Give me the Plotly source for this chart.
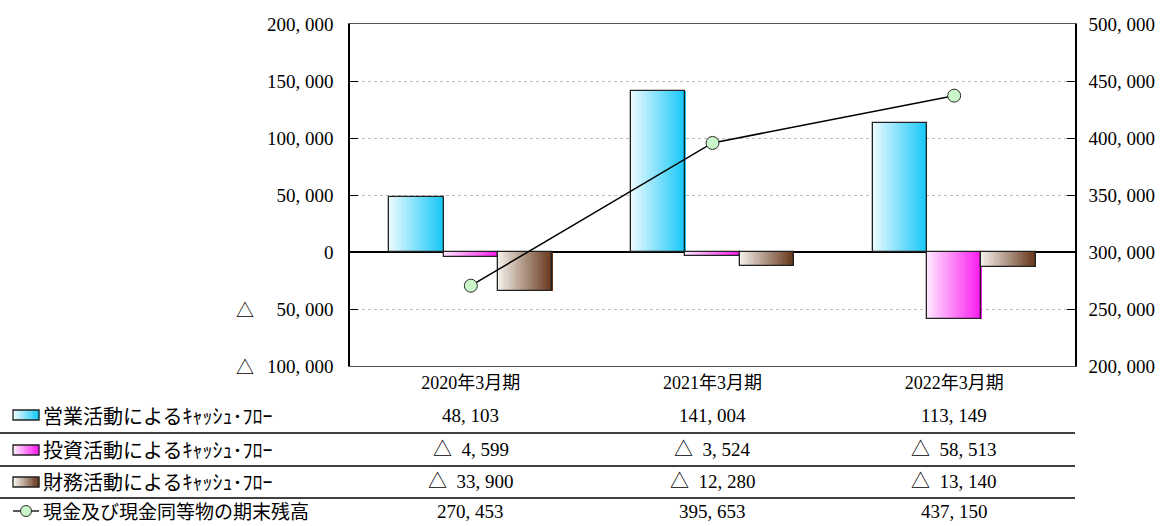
import plotly.graph_objects as go

# ---- data -------------------------------------------------------------
periods = ["2020年3月期", "2021年3月期", "2022年3月期"]
operating_cf = [48103, 141004, 113149]
investing_cf = [-4599, -3524, -58513]
financing_cf = [-33900, -12280, -13140]
cash_end = [270453, 395653, 437150]

bar_names = ["営業活動によるｷｬｯｼｭ･ﾌﾛｰ", "投資活動によるｷｬｯｼｭ･ﾌﾛｰ", "財務活動によるｷｬｯｼｭ･ﾌﾛｰ"]
line_name = "現金及び現金同等物の期末残高"

left_ticks = [200000, 150000, 100000, 50000, 0, -50000, -100000]
right_ticks = [500000, 450000, 400000, 350000, 300000, 250000, 200000]

# ---- styling ----------------------------------------------------------
W, H = 1172, 526
L, R, T, B = 350, 97, 24, 160
PW, PH = W - L - R, H - T - B

NUM_FONT = "Liberation Serif, Noto Sans CJK JP, serif"
JP_FONT = "Noto Sans CJK JP, sans-serif"

gradients = [
    ((234, 250, 255), (24, 200, 248)),
    ((255, 230, 255), (250, 28, 238)),
    ((243, 239, 233), (104, 56, 28)),
]
bw = 0.225
N_SLICES = 32


def fmt(v):
    s = f"{abs(v):,}".replace(",", ", ")
    return ("△\u00a0\u00a0" + s) if v < 0 else s


def mix(c0, c1, t):
    return "rgb(%d,%d,%d)" % tuple(round(a + (b - a) * t) for a, b in zip(c0, c1))


def px_x(px):
    return (px - L) / PW


def px_y(py):
    return (H - B - py) / PH


xs = list(range(len(periods)))
series = [operating_cf, investing_cf, financing_cf]

fig = go.Figure()

# gradient-filled bars built from thin vertical slices
for k, vals in enumerate(series):
    start = -1.5 * bw + k * bw
    sw = bw / N_SLICES
    c0, c1 = gradients[k]
    for i in range(N_SLICES):
        t = i / (N_SLICES - 1)
        fig.add_trace(go.Bar(
            x=xs, y=vals, offset=start + i * sw, width=sw * 1.15,
            marker=dict(color=mix(c0, c1, t), line=dict(width=0)),
            showlegend=False, hoverinfo="skip",
        ))
    fig.add_trace(go.Bar(
        x=xs, y=vals, offset=start, width=bw, name=bar_names[k],
        marker=dict(color="rgba(0,0,0,0)", line=dict(color="#222", width=1.3)),
        showlegend=False,
    ))

fig.add_trace(go.Scatter(
    x=xs, y=cash_end, yaxis="y2", mode="lines+markers", name=line_name,
    line=dict(color="black", width=1.5),
    marker=dict(size=13, color="#c9f7c9", line=dict(color="#2a2a2a", width=1)),
    showlegend=False,
))

shapes = []
annotations = []

# negative-value marks on the left axis
for v in left_ticks:
    if v < 0:
        annotations.append(dict(
            x=px_x(245), y=v, xref="paper", yref="y", text="△", showarrow=False,
            xanchor="center", yanchor="middle", font=dict(family=JP_FONT, size=18, color="black"),
        ))

# data table under the chart
row_y = [415, 450, 482, 511]
sep_y = [433, 466, 498]
for y in sep_y:
    shapes.append(dict(type="line", xref="paper", yref="paper",
                       x0=px_x(0), x1=px_x(1075), y0=px_y(y), y1=px_y(y),
                       line=dict(color="black", width=1.5)))

rows = [operating_cf, investing_cf, financing_cf, cash_end]
labels = bar_names + [line_name]
for r, (vals, lab) in enumerate(zip(rows, labels)):
    yc = row_y[r]
    annotations.append(dict(
        x=px_x(42), y=px_y(yc - (1 if r == 3 else 0)), xref="paper", yref="paper", text=lab,
        showarrow=False, xanchor="left", yanchor="middle", borderpad=0,
        font=dict(family=JP_FONT, size=20 if r < 3 else 19, color="black"),
    ))
    for xi, v in zip(xs, vals):
        annotations.append(dict(
            x=xi, y=px_y(yc), xref="x", yref="paper", text=fmt(v), showarrow=False,
            xanchor="center", yanchor="middle", font=dict(family=NUM_FONT, size=19, color="black"),
        ))
    # legend key
    if r < 3:
        c0, c1 = gradients[r]
        n = 10
        x0, x1 = 13, 39
        for i in range(n):
            shapes.append(dict(type="rect", xref="paper", yref="paper",
                               x0=px_x(x0 + (x1 - x0) * i / n), x1=px_x(x0 + (x1 - x0) * (i + 1) / n + 0.4),
                               y0=px_y(yc - 5), y1=px_y(yc + 5),
                               fillcolor=mix(c0, c1, i / (n - 1)), line=dict(width=0)))
        shapes.append(dict(type="rect", xref="paper", yref="paper",
                           x0=px_x(x0), x1=px_x(x1), y0=px_y(yc - 5), y1=px_y(yc + 5),
                           fillcolor="rgba(0,0,0,0)", line=dict(color="#222", width=1.3)))
    else:
        shapes.append(dict(type="line", xref="paper", yref="paper",
                           x0=px_x(13), x1=px_x(39), y0=px_y(yc), y1=px_y(yc),
                           line=dict(color="black", width=1.3)))
        shapes.append(dict(type="circle", xref="paper", yref="paper",
                           x0=px_x(20.5), x1=px_x(31.5), y0=px_y(yc - 5.5), y1=px_y(yc + 5.5),
                           fillcolor="#c9f7c9", line=dict(color="#2a2a2a", width=1)))

fig.update_layout(
    width=W, height=H,
    margin=dict(l=L, r=R, t=T, b=B, pad=0),
    paper_bgcolor="white", plot_bgcolor="white",
    barmode="overlay", bargap=0,
    showlegend=False,
    shapes=shapes, annotations=annotations,
    xaxis=dict(
        range=[-0.5, 2.5], tickvals=xs, ticktext=periods,
        showline=True, mirror=True, linecolor="#555", linewidth=1,
        showgrid=False, zeroline=False, ticks="",
        tickfont=dict(family=NUM_FONT, size=18, color="black"),
    ),
    yaxis=dict(
        range=[-100000, 200000], tickvals=left_ticks,
        ticktext=[fmt(abs(v)) for v in left_ticks],
        showgrid=True, gridcolor="#bdbdbd", griddash="dot", gridwidth=1,
        zeroline=True, zerolinecolor="black", zerolinewidth=1.5,
        showline=True, linecolor="black", linewidth=1.5,
        ticks="inside", ticklen=8, tickcolor="black", ticklabelstandoff=11,
        tickfont=dict(family=NUM_FONT, size=19, color="black"),
    ),
    yaxis2=dict(
        range=[200000, 500000], tickvals=right_ticks,
        ticktext=[fmt(v) for v in right_ticks],
        overlaying="y", side="right",
        showgrid=False, zeroline=False,
        showline=True, linecolor="black", linewidth=1.5,
        ticks="inside", ticklen=8, tickcolor="black", ticklabelstandoff=8,
        tickfont=dict(family=NUM_FONT, size=19, color="black"),
    ),
)

fig.write_html("out.html")
